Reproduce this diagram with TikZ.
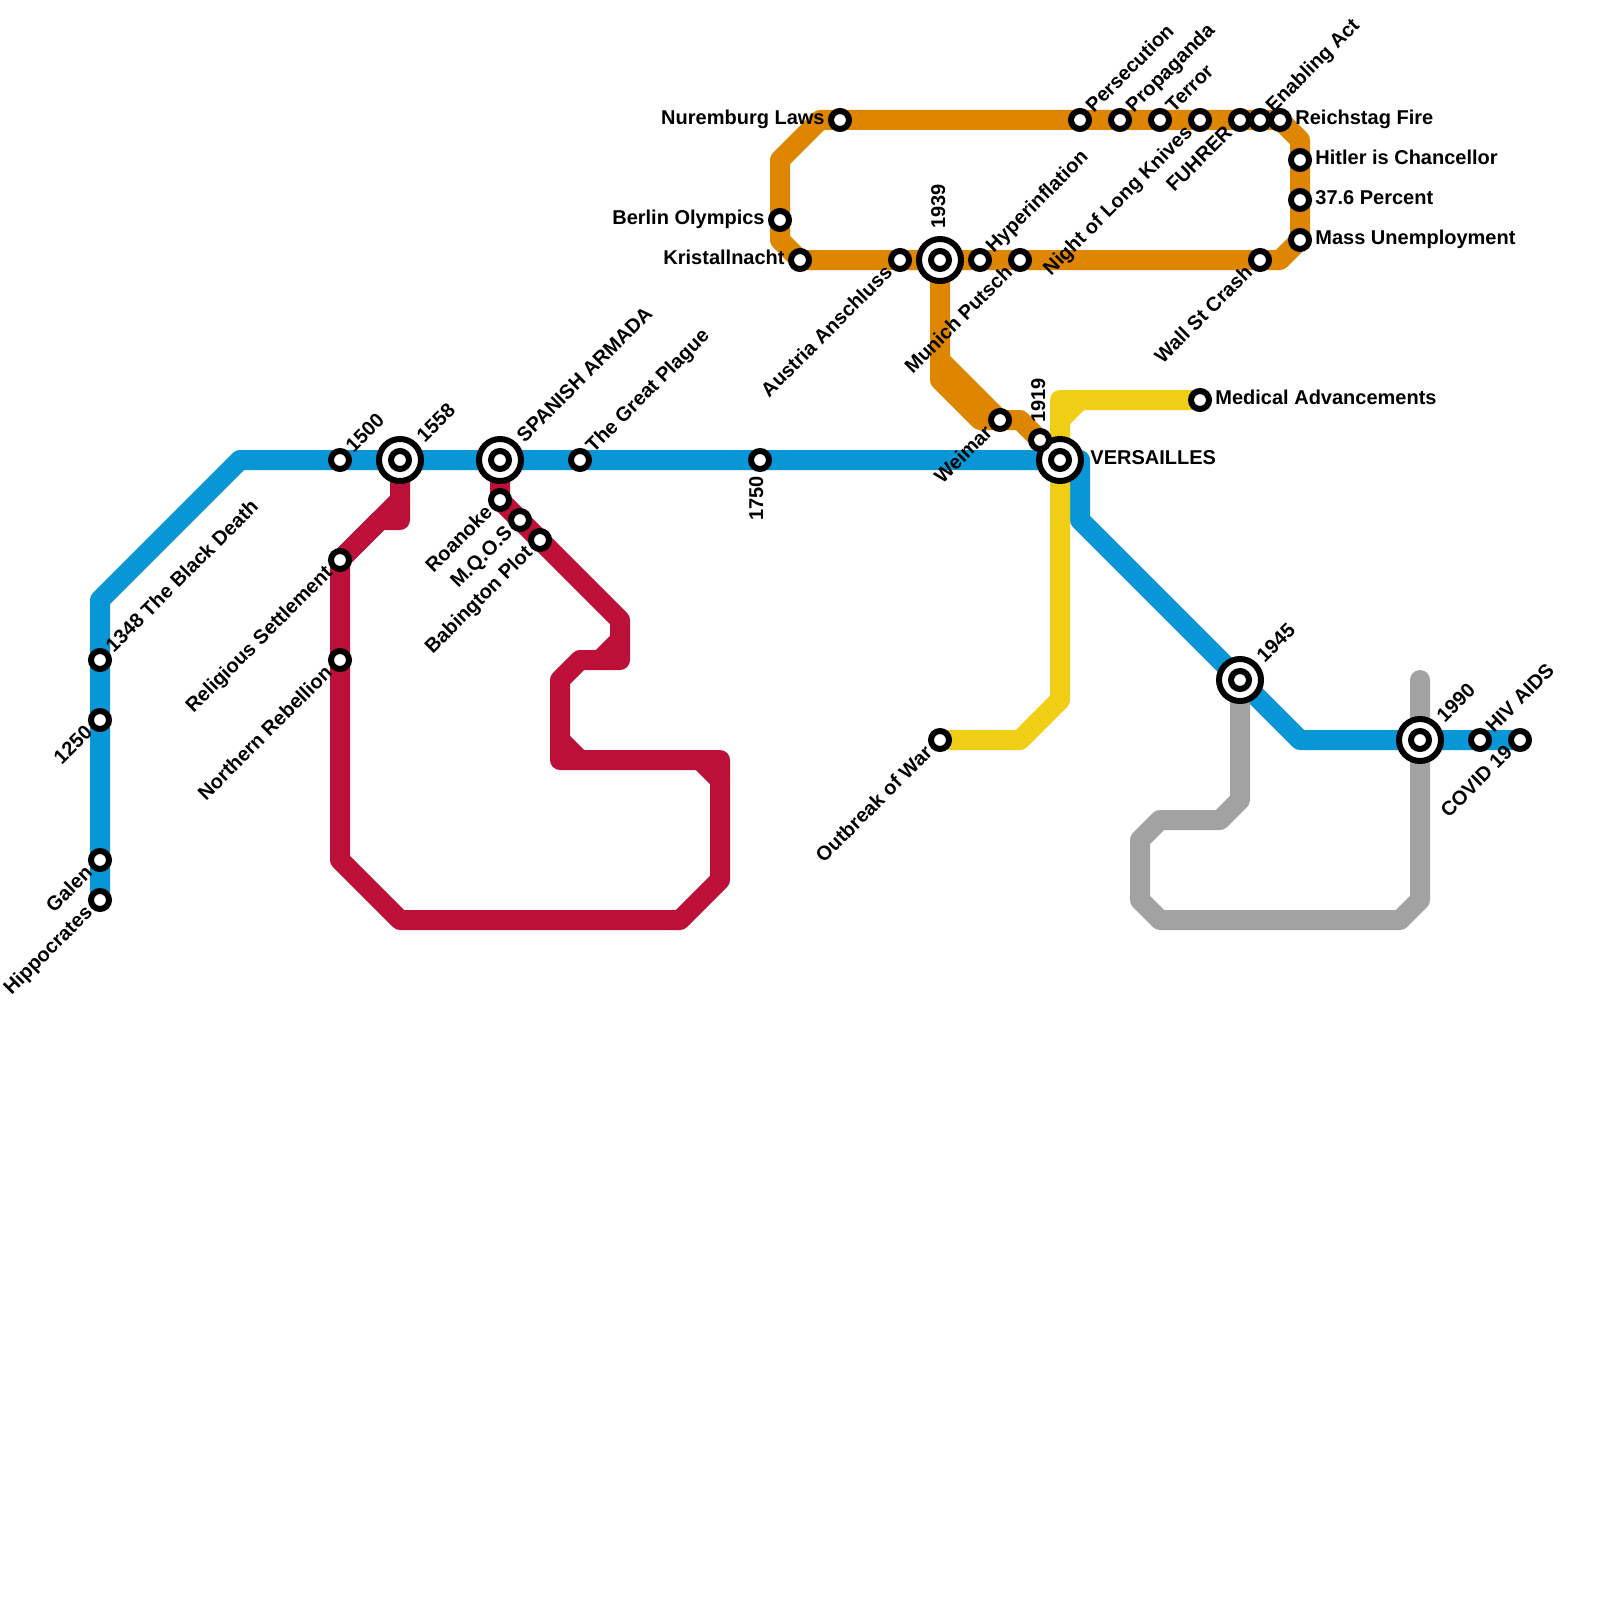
\documentclass[tikz,border=0pt]{standalone}
\usepackage{fontspec}
\setmainfont{Liberation Sans}
\usetikzlibrary{backgrounds}
\definecolor{mblue}{HTML}{0896D7}
\definecolor{mred}{HTML}{BD1038}
\definecolor{morange}{HTML}{DF8600}
\definecolor{myellow}{HTML}{F0CE15}
\definecolor{mgray}{HTML}{A2A2A2}
\tikzset{
  stn/.style={circle,draw=black,fill=white,line width=3pt,minimum size=9pt,inner sep=0pt,outer sep=0pt},
  hub/.style={circle,draw=black,fill=white,line width=3pt,minimum size=21pt,inner sep=0pt,outer sep=0pt},
  lbl/.style={font=\fontsize{10}{10}\selectfont\bfseries,inner sep=0pt,text=black,text height=7.2pt,text depth=2pt},
  lne/.style={lbl,rotate=45,anchor=west},
  lsw/.style={lbl,rotate=45,anchor=east},
  lr/.style={lbl,anchor=west},
  ll/.style={lbl,anchor=east},
  lu/.style={lbl,rotate=90,anchor=west},
  ld/.style={lbl,rotate=90,anchor=east},
  metro/.style={line width=10pt,line join=round,line cap=round}
}
\newcommand\Stn[3]{\node[stn] (#1) at (#2,#3) {};}
\newcommand\Hub[3]{\node[hub] (#1h) at (#2,#3) {};\node[stn] (#1) at (#2,#3) {};}
\newcommand\Vtx[3]{\coordinate (#1) at (#2,#3);}
\newcommand\LabNE[2]{\node[lne] (l#1) at ([shift={(10,-10)}]#1.center) {#2};}
\newcommand\LabSW[2]{\node[lsw] (l#1) at ([shift={(-10,10)}]#1.center) {#2};}
\newcommand\LabHub[2]{\node[lne] (l#1) at ([shift={(21,-20)}]#1.center) {#2};}
\newcommand\LabR[2]{\node[lr] (l#1) at ([shift={(15,-1)}]#1.center) {#2};}
\newcommand\LabL[2]{\node[ll] (l#1) at ([shift={(-15,-1)}]#1.center) {#2};}
\begin{document}
\begin{tikzpicture}[x=0.5pt,y=-0.5pt]
\useasboundingbox (0,0) rectangle (1600,1600);
% blue stations
\Stn{hipp}{100}{900}\Stn{galen}{100}{860}\Stn{y1250}{100}{720}\Stn{death}{100}{660}
\Stn{y1500}{340}{460}\Hub{y1558}{400}{460}\Hub{armada}{500}{460}\Stn{plague}{580}{460}
\Stn{y1750}{760}{460}\Hub{vers}{1060}{460}\Hub{y1945}{1240}{680}\Hub{y1990}{1420}{740}
\Stn{hiv}{1480}{740}\Stn{covid}{1520}{740}
% red stations
\Stn{relig}{340}{560}\Stn{north}{340}{660}\Stn{roan}{500}{500}\Stn{mqos}{520}{520}\Stn{babi}{540}{540}
% orange stations
\Stn{nurem}{840}{120}\Stn{berlin}{780}{220}\Stn{krist}{800}{260}\Stn{austria}{900}{260}
\Hub{y1939}{940}{260}\Stn{hyper}{980}{260}\Stn{munich}{1020}{260}\Stn{wall}{1260}{260}
\Stn{mass}{1300}{240}\Stn{pct}{1300}{200}\Stn{hitler}{1300}{160}\Stn{reich}{1280}{120}
\Stn{enab}{1260}{120}\Stn{fuhrer}{1240}{120}\Stn{night}{1200}{120}\Stn{terror}{1160}{120}
\Stn{propa}{1120}{120}\Stn{perse}{1080}{120}\Stn{weimar}{1000}{420}\Stn{y1919}{1040}{440}
% yellow stations
\Stn{medic}{1200}{400}\Stn{war}{940}{740}
% bends
\Vtx{b1}{100}{600}\Vtx{b2}{240}{460}\Vtx{b3}{1080}{460}\Vtx{b4}{1080}{520}\Vtx{b5}{1300}{740}
\Vtx{r1}{400}{520}\Vtx{r2}{380}{520}\Vtx{r3}{400}{500}\Vtx{r4}{340}{860}\Vtx{r5}{400}{920}
\Vtx{r6}{680}{920}\Vtx{r7}{720}{880}\Vtx{r8}{720}{760}\Vtx{r9}{560}{760}\Vtx{r10}{560}{680}
\Vtx{r11}{580}{660}\Vtx{r12}{620}{660}\Vtx{r13}{620}{620}
\Vtx{r14}{620}{640}\Vtx{r15}{600}{660}\Vtx{r16}{700}{760}\Vtx{r17}{720}{780}\Vtx{r18}{560}{740}\Vtx{r19}{580}{760}
\Vtx{o1}{820}{120}\Vtx{o2}{780}{160}\Vtx{o3}{780}{240}\Vtx{o4}{1280}{260}\Vtx{o5}{1300}{140}
\Vtx{o6}{940}{380}\Vtx{o7}{980}{420}\Vtx{o8}{1020}{420}\Vtx{o9}{940}{360}
\Vtx{e1}{1060}{400}\Vtx{e2}{1080}{400}\Vtx{e3}{1060}{420}\Vtx{e4}{1060}{700}\Vtx{e5}{1020}{740}
\Vtx{g0}{1420}{680}\Vtx{g1}{1420}{900}\Vtx{g2}{1400}{920}\Vtx{g3}{1160}{920}\Vtx{g4}{1140}{900}
\Vtx{g5}{1140}{840}\Vtx{g6}{1160}{820}\Vtx{g7}{1220}{820}\Vtx{g8}{1240}{800}
% lines
\begin{pgfonlayer}{background}
\fill[white] (0,0) rectangle (1600,1600);
\draw[metro,morange] (o1) -- (o2) -- (o3) -- (krist.center) -- (o4) -- (mass.center) -- (o5) -- (reich.center) -- (o1);
\draw[metro,morange] (y1939.center) -- (o6) -- (o7) -- (o8) -- (vers.center);
\draw[metro,morange] (o9) -- (weimar.center);
\draw[metro,mred] (y1558.center) -- (r1) -- (r2) -- (relig.center) -- (r4) -- (r5) -- (r6) -- (r7) -- (r8) -- (r9) -- (r10) -- (r11) -- (r12) -- (r13) -- (roan.center) -- (armada.center);
\draw[metro,mred] (r3) -- (relig.center);
\draw[metro,mred] (r14) -- (r15);
\draw[metro,mred] (r16) -- (r17);
\draw[metro,mred] (r18) -- (r19);
\draw[metro,mblue] (hipp.center) -- (b1) -- (b2) -- (b3) -- (b4) -- (b5) -- (covid.center);
\draw[metro,mgray] (g0) -- (g1) -- (g2) -- (g3) -- (g4) -- (g5) -- (g6) -- (g7) -- (g8) -- (y1945.center);
\draw[metro,myellow] (medic.center) -- (e1) -- (e4) -- (e5) -- (war.center);
\draw[metro,myellow] (e2) -- (e3);
\end{pgfonlayer}
% labels
\LabNE{death}{1348 The Black Death}
\LabSW{y1250}{1250}
\LabSW{galen}{Galen}
\LabSW{hipp}{Hippocrates}
\LabNE{y1500}{1500}
\LabHub{y1558}{1558}
\LabHub{armada}{SPANISH ARMADA}
\LabNE{plague}{The Great Plague}
\node[ld] (ly1750) at ([shift={(-2,16)}]y1750.center) {1750};
\LabSW{relig}{Religious Settlement}
\LabSW{north}{Northern Rebellion}
\LabSW{roan}{Roanoke}
\LabSW{mqos}{M.Q.O.S}
\LabSW{babi}{Babington Plot}
\LabL{nurem}{Nuremburg Laws}
\LabL{berlin}{Berlin Olympics}
\LabL{krist}{Kristallnacht}
\LabSW{austria}{Austria Anschluss}
\node[lu] (ly1939) at ([shift={(0,-31)}]y1939.center) {1939};
\LabNE{hyper}{Hyperinflation}
\LabSW{munich}{Munich Putsch}
\LabSW{night}{Night of Long Knives}
\LabSW{fuhrer}{FUHRER}
\LabSW{wall}{Wall St Crash}
\LabSW{weimar}{Weimar}
\node[lu] (ly1919) at ([shift={(0,-17)}]y1919.center) {1919};
\LabNE{perse}{Persecution}
\LabNE{propa}{Propaganda}
\LabNE{terror}{Terror}
\LabNE{enab}{Enabling Act}
\LabR{reich}{Reichstag Fire}
\LabR{hitler}{Hitler is Chancellor}
\LabR{pct}{37.6 Percent}
\LabR{mass}{Mass Unemployment}
\LabR{medic}{Medical Advancements}
\node[lr] (lvers) at ([shift={(30,-1)}]vers.center) {VERSAILLES};
\LabSW{war}{Outbreak of War}
\LabHub{y1945}{1945}
\LabHub{y1990}{1990}
\LabNE{hiv}{HIV AIDS}
\LabSW{covid}{COVID 19}
\end{tikzpicture}
\end{document}
